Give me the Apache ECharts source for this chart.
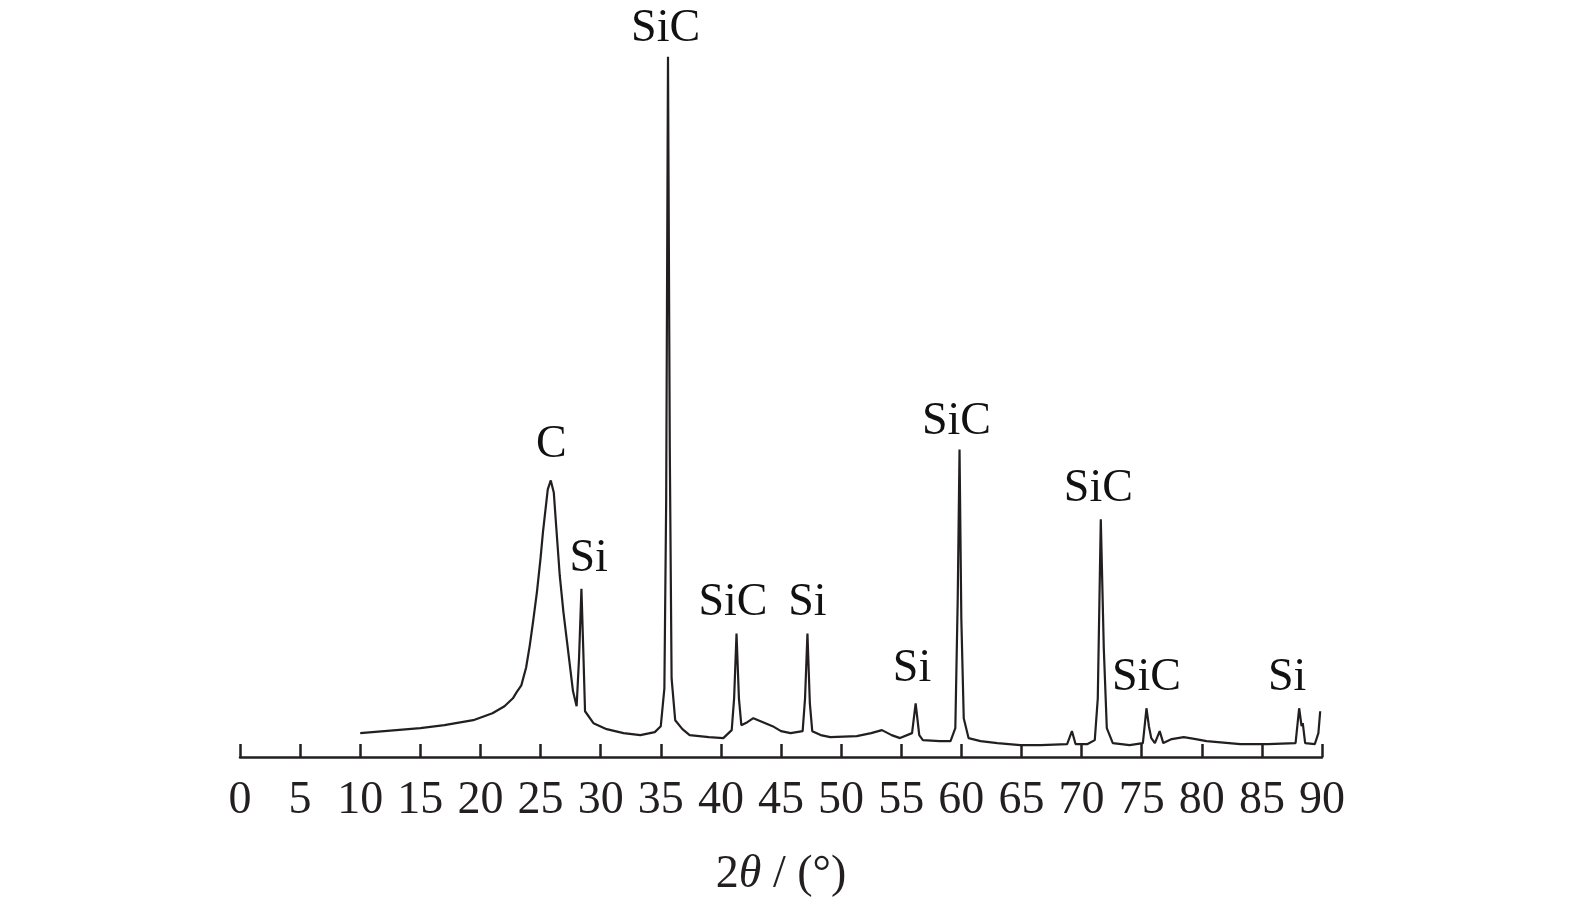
<!DOCTYPE html>
<html>
<head>
<meta charset="utf-8">
<script src="https://cdn.jsdelivr.net/npm/echarts@6/dist/echarts.min.js"></script>
<style>html,body{margin:0;padding:0;background:#fff;}#c{width:1575px;height:903px;}</style>
</head>
<body>
<div id="c"></div>
<script>
// 2θ (degrees)
const twoTheta = [10.0,12.0,15.0,17.0,19.4,21.0,22.0,22.7,23.0,23.4,23.8,24.1,24.4,24.7,25.0,25.2,25.6,25.85,26.0,26.1,26.3,26.6,26.9,27.2,27.7,28.0,28.2,28.4,28.55,28.7,29.4,30.5,31.9,33.3,34.5,35.0,35.3,35.45,35.6,35.75,35.9,36.2,36.8,37.4,39.0,40.2,40.9,41.1,41.3,41.5,41.7,42.2,42.7,43.5,44.3,45.0,45.8,46.8,47.0,47.2,47.4,47.6,48.3,49.1,51.3,52.5,53.4,54.2,54.9,55.9,56.2,56.5,56.8,58.2,59.1,59.5,59.7,59.85,60.0,60.2,60.6,61.6,63.0,64.9,66.6,68.8,69.2,69.5,70.5,71.1,71.35,71.6,71.85,72.1,72.6,74.0,75.1,75.4,75.6,75.8,76.1,76.5,76.8,77.5,78.5,79.5,80.4,83.2,85.5,87.8,88.1,88.3,88.4,88.6,89.4,89.7,89.85];
// intensity (a.u.)
const intensity = [24,26,29,32,37,44,51,59,65,72,90,112,138,166,200,226,269,278,276,266,232,182,146,116,66,51,99,169,109,46,34,28,24,22,25,31,69,259,704,309,79,37,28,22,20,19,27,59,124,59,32,35,39,35,31,26,24,26,59,124,54,26,22,20,21,24,27,22,19,24,54,22,17,16,16,29,159,309,139,39,19,16,14,12,12,13,26,13,13,17,59,239,109,29,14,12,14,49,31,19,14,26,14,18,20,18,16,13,13,14,49,31,34,14,13,24,46];
// phase labels: [2θ, intensity position, text]
const peakLabels = [
  [25.9, 314, 'C'],
  [29.0, 199, 'Si'],
  [35.4, 732, 'SiC'],
  [41.0, 155, 'SiC'],
  [47.2, 155, 'Si'],
  [55.9, 89, 'Si'],
  [59.6, 337, 'SiC'],
  [71.4, 270, 'SiC'],
  [75.4, 79, 'SiC'],
  [87.1, 79, 'Si']
];
const xTicks = {min: 0, max: 90, interval: 5};

const FONT = '"Liberation Serif", "DejaVu Serif", serif';
const INK = '#231f20';
const chart = echarts.init(document.getElementById('c'));
chart.setOption({
  animation: false,
  backgroundColor: '#fff',
  grid: {left: 240, right: 253, top: 2, bottom: 142, containLabel: false},
  xAxis: {
    type: 'value', min: xTicks.min, max: xTicks.max, interval: xTicks.interval,
    axisLine: {lineStyle: {color: INK, width: 2.5}},
    axisTick: {inside: true, length: 13, lineStyle: {color: INK, width: 2.5}},
    axisLabel: {color: INK, fontFamily: FONT, fontSize: 46, margin: 21},
    splitLine: {show: false},
    name: '{n|2}{i|θ}{n| / (°)}',
    nameLocation: 'middle', nameGap: 95,
    nameTextStyle: {
      rich: {
        n: {fontFamily: FONT, fontSize: 46, color: INK},
        i: {fontFamily: FONT, fontSize: 46, color: INK, fontStyle: 'italic'}
      }
    }
  },
  yAxis: {type: 'value', min: 0, max: 759, show: false},
  series: [
    {
      type: 'line', showSymbol: false, symbol: 'none',
      lineStyle: {color: INK, width: 2.2},
      data: twoTheta.map((x, i) => [x, intensity[i]])
    },
    {
      type: 'scatter', symbolSize: 0, clip: false, silent: true,
      itemStyle: {opacity: 1},
      data: peakLabels.map(d => ({value: [d[0], d[1]], name: d[2]})),
      label: {show: true, position: 'inside', formatter: p => p.name,
        fontFamily: FONT, fontSize: 46, color: '#111', opacity: 1, textBorderWidth: 0}
    }
  ]
});
</script>
</body>
</html>
